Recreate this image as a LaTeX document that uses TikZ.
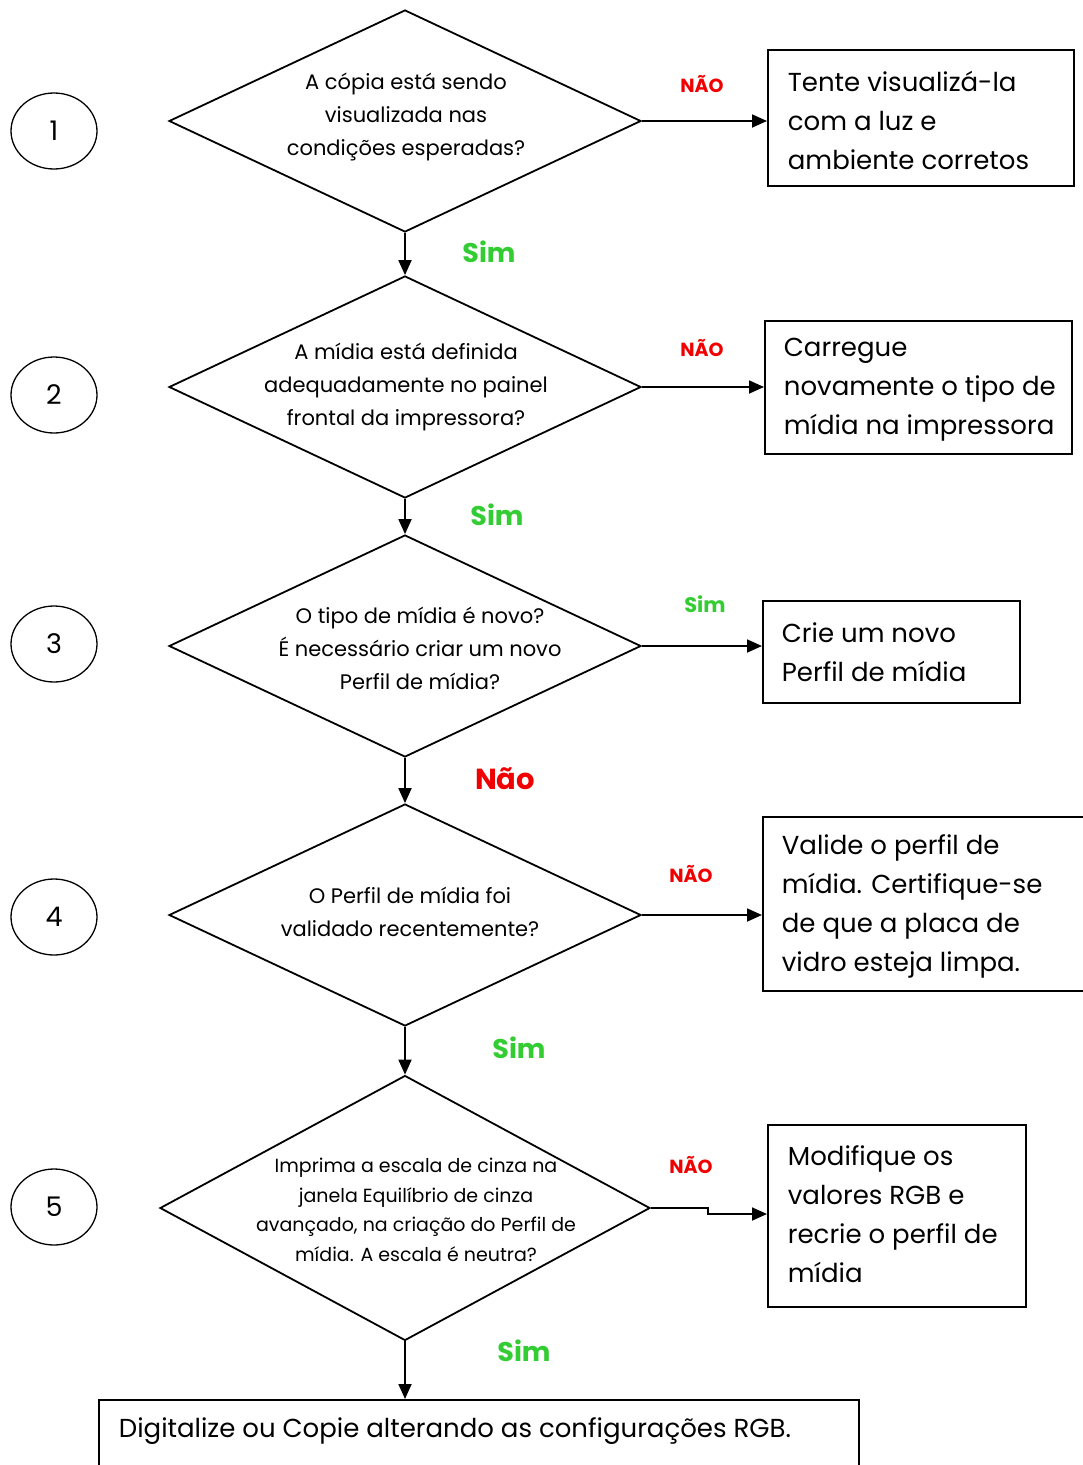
\documentclass[tikz,border=0pt]{standalone}
\usepackage{fontspec}
\setmainfont{Poppins}
\usetikzlibrary{shapes.geometric,arrows.meta}
\definecolor{nored}{RGB}{240,0,0}
\definecolor{simgreen}{RGB}{51,204,51}
\begin{document}
\begin{tikzpicture}[x=1pt,y=-1pt,
  line width=1.8pt,
  dia/.style={diamond,draw,inner sep=0pt,minimum width=472pt,minimum height=222pt},
  diatext/.style={align=center,inner sep=0pt,font=\fontsize{21}{33}\selectfont},
  num/.style={ellipse,draw,line width=1.3pt,minimum width=86pt,minimum height=76pt,inner sep=0pt,
    font=\fontsize{27}{30}\selectfont},
  act/.style={rectangle,draw,inner sep=0pt,anchor=north west},
  acttext/.style={align=left,anchor=west,inner sep=0pt,font=\fontsize{26}{39}\selectfont},
  arr/.style={-{Triangle[length=15pt,width=13pt]}},
  nolab/.style={text=nored,font=\fontsize{19}{20}\selectfont\bfseries},
  simlab/.style={text=simgreen,font=\fontsize{27}{30}\selectfont\bfseries},
]
\useasboundingbox (0,0) rectangle (1083,1465);

\node[num] (c1) at (54,131) {1};
\node[num] (c2) at (54,395) {2};
\node[num] (c3) at (54,644) {3};
\node[num] (c4) at (54,917) {4};
\node[num] (c5) at (54,1207) {5};

\node[dia] (d1) at (405,121) {};
\node[dia] (d2) at (405,387) {};
\node[dia] (d3) at (405,646) {};
\node[dia] (d4) at (405,915) {};
\node[dia,minimum width=490pt,minimum height=265pt] (d5) at (405,1208) {};

\node[diatext] (t1) at (406,117) {A cópia está sendo\\visualizada nas\\condições esperadas?};
\node[diatext] (t2) at (406,387) {A mídia está definida\\adequadamente no painel\\frontal da impressora?};
\node[diatext] (t3) at (420,648) {O tipo de mídia é novo?\\É necessário criar um novo\\Perfil de mídia?};
\node[diatext] (t4) at (410,912) {O Perfil de mídia foi\\validado recentemente?};
\node[diatext,font=\fontsize{19}{29.5}\selectfont] (t5) at (416,1210)
  {Imprima a escala de cinza na\\janela Equilíbrio de cinza\\avançado, na criação do Perfil de\\mídia. A escala é neutra?};

\node[act,minimum width=306pt,minimum height=136pt] (b1) at (767,49) {};
\node[act,minimum width=307pt,minimum height=133pt] (b2) at (764,320) {};
\node[act,minimum width=257pt,minimum height=102pt] (b3) at (762,600) {};
\node[act,minimum width=330pt,minimum height=174pt] (b4) at (762,816) {};
\node[act,minimum width=258pt,minimum height=182pt] (b5) at (767,1124) {};
\node[act,minimum width=760pt,minimum height=80pt] (b6) at (98,1399) {};

\node[acttext] (u1) at (787,120) {Tente visualizá-la\\com a luz e\\ambiente corretos};
\node[acttext] (u2) at (783,390) {Carregue\\novamente o tipo de\\mídia na impressora};
\node[acttext] (u3) at (781,652) {Crie um novo\\Perfil de mídia};
\node[acttext] (u4) at (781,906) {Valide o perfil de\\mídia. Certifique-se\\de que a placa de\\vidro esteja limpa.};
\node[acttext] (u5) at (787,1214) {Modifique os\\valores RGB e\\recrie o perfil de\\mídia};
\node[acttext] (u6) at (118,1431) {Digitalize ou Copie alterando as configurações RGB.};

\draw[arr] (d1.east) -- (b1.west |- d1.east);
\draw[arr] (d2.east) -- (b2.west |- d2.east);
\draw[arr] (d3.east) -- (b3.west |- d3.east);
\draw[arr] (d4.east) -- (b4.west |- d4.east);
\coordinate (k5) at (708,1208);
\draw[arr] (d5.east) -- (k5) -- ++(0,6) -- (b5.west |- 0,1214);

\draw[arr] (d1.south) -- (d2.north);
\draw[arr] (d2.south) -- (d3.north);
\draw[arr] (d3.south) -- (d4.north);
\draw[arr] (d4.south) -- (d5.north);
\draw[arr] (d5.south) -- (d5.south |- b6.north);

\node[nolab] (n1) at (702,84) {NÃO};
\node[nolab] (n2) at (702,348) {NÃO};
\node[simlab,font=\fontsize{21}{24}\selectfont\bfseries] (s3) at (705,604) {Sim};
\node[nolab] (n4) at (691,874) {NÃO};
\node[nolab] (n5) at (691,1165) {NÃO};

\node[simlab] (s1) at (489,252) {Sim};
\node[simlab] (s2) at (497,515) {Sim};
\node[simlab,text=nored,font=\fontsize{29}{30}\selectfont\bfseries] (s4) at (505,779) {Não};
\node[simlab] (s5) at (519,1048) {Sim};
\node[simlab] (s6) at (524,1351) {Sim};
\end{tikzpicture}
\end{document}
